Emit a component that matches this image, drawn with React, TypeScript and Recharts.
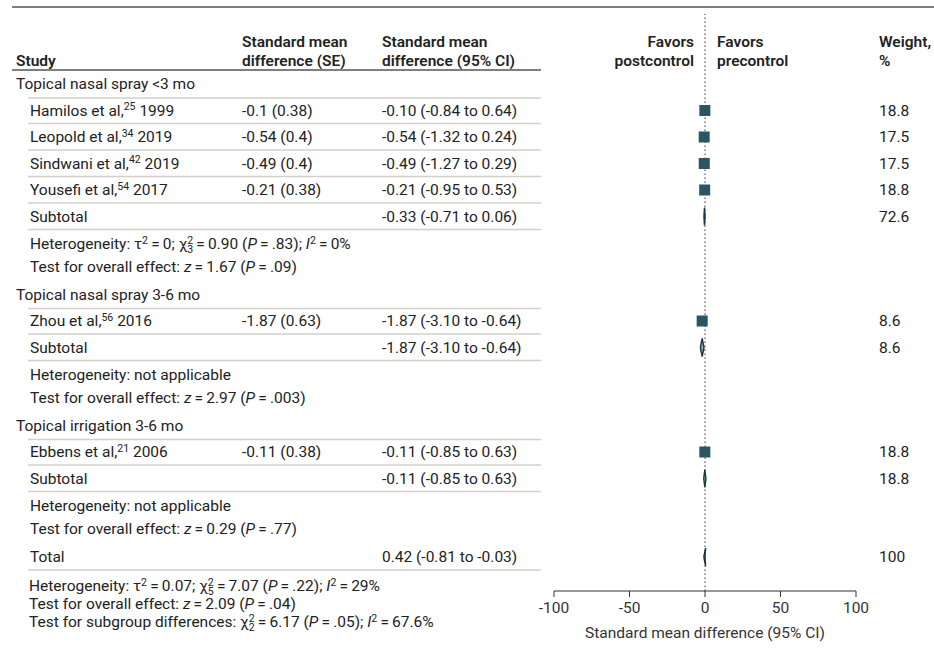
import React from 'react';
import { ComposedChart, Scatter, ErrorBar, XAxis, YAxis, ReferenceLine } from 'recharts';

// subgroups
const groupLabels = ['Topical nasal spray <3 mo', 'Topical nasal spray 3-6 mo', 'Topical irrigation 3-6 mo'];
const groupHeterogeneity = [
  'Heterogeneity: τ^{2} = 0; χ^{2}_{3} = 0.90 (*P* = .83); *I*^{2} = 0%',
  'Heterogeneity: not applicable',
  'Heterogeneity: not applicable',
];
const groupOverall = [
  'Test for overall effect: *z* = 1.67 (*P* = .09)',
  'Test for overall effect: *z* = 2.97 (*P* = .003)',
  'Test for overall effect: *z* = 0.29 (*P* = .77)',
];

// studies
const studyNames = ['Hamilos et al,', 'Leopold et al,', 'Sindwani et al,', 'Yousefi et al,', 'Zhou et al,', 'Ebbens et al,'];
const studyRefs = ['25', '34', '42', '54', '56', '21'];
const studyYears = ['1999', '2019', '2019', '2017', '2016', '2006'];
const studyGroup = [0, 0, 0, 0, 1, 2];
const studySmd = [-0.1, -0.54, -0.49, -0.21, -1.87, -0.11];
const studySe = [0.38, 0.4, 0.4, 0.38, 0.63, 0.38];
const studyLow = [-0.84, -1.32, -1.27, -0.95, -3.1, -0.85];
const studyHigh = [0.64, 0.24, 0.29, 0.53, -0.64, 0.63];
const studyWeight = ['18.8', '17.5', '17.5', '18.8', '8.6', '18.8'];

// subtotals
const subtotalEst = [-0.33, -1.87, -0.11];
const subtotalLow = [-0.71, -3.1, -0.85];
const subtotalHigh = [0.06, -0.64, 0.63];
const subtotalWeight = ['72.6', '8.6', '18.8'];

// overall
const totalEst = 0.42;
const totalLow = -0.81;
const totalHigh = -0.03;
const totalWeight = '100';
const totalNotes = [
  'Heterogeneity: τ^{2} = 0.07; χ^{2}_{5} = 7.07 (*P* = .22); *I*^{2} = 29%',
  'Test for overall effect: *z* = 2.09 (*P* = .04)',
  'Test for subgroup differences: χ^{2}_{2} = 6.17 (*P* = .05); *I*^{2} = 67.6%',
];

const xTicks = [-100, -50, 0, 50, 100];

const INK = '#222';
const BOX = '#2a5664';
const RULE = '#d2d0c9';
const FONT = 15.5;

const fmt = (v: number) => v.toFixed(2);
const ciText = (e: number, lo: number, hi: number) => `${fmt(e)} (${fmt(lo)} to ${fmt(hi)})`;

// ---- row layout ----
type Row = { kind: string; idx: number; text?: string; pos: number };
const rows: Row[] = [];
const gapBefore = (kind: string, prev: string) => {
  if (kind === 'group') return prev === 'header' ? 32.5 : 27.5;
  if (kind === 'note') return prev === 'note' ? 23 : 27.5;
  if (kind === 'total') return 28;
  return 26.5;
};
const push = (kind: string, idx: number, text?: string) => {
  const prev = rows[rows.length - 1];
  const pos = prev ? prev.pos + gapBefore(kind, prev.kind) : 37.5;
  rows.push({ kind, idx, text, pos });
};
push('header', 0);
groupLabels.forEach((_, g) => {
  push('group', g);
  studyGroup.forEach((sg, i) => { if (sg === g) push('study', i); });
  push('subtotal', g);
  push('note', g, groupHeterogeneity[g]);
  push('note', g, groupOverall[g]);
});
push('total', 0);

const rowPos = (kind: string, idx: number) => rows.find(r => r.kind === kind && r.idx === idx)!.pos;

const studyData = studySmd.map((v, i) => ({
  x: v,
  y: rowPos('study', i),
  err: [v - studyLow[i], studyHigh[i] - v],
}));

const diamond = (e: number, lo: number, hi: number, y: number) => [
  { x: lo, y }, { x: e, y: y - 9 }, { x: hi, y }, { x: e, y: y + 9 }, { x: lo, y },
];
const diamonds = [
  ...subtotalEst.map((e, g) => diamond(e, subtotalLow[g], subtotalHigh[g], rowPos('subtotal', g))),
  diamond(totalEst, totalLow, totalHigh, rowPos('total', 0)),
];

// small markup: ^{sup} _{sub} *italic*
function Rich({ x, y, src, anchor = 'start', bold = false }: any) {
  const toks = src.split(/(\^\{[^}]*\}|_\{[^}]*\}|\*[^*]*\*)/).filter(Boolean);
  let shift = 0;
  let supLen = 0;
  let prevSup = false;
  const small = FONT * 0.68;
  const spans = toks.map((t: string, k: number) => {
    if (t.startsWith('^{')) {
      const s = t.slice(2, -1);
      const dy = -5.5 - shift; shift = -5.5; supLen = s.length; prevSup = true;
      return <tspan key={k} dy={dy} fontSize={small}>{s}</tspan>;
    }
    if (t.startsWith('_{')) {
      const s = t.slice(2, -1);
      const dx = prevSup ? -supLen * small * 0.56 : 0;
      const dy = 4 - shift; shift = 4; prevSup = false;
      return <tspan key={k} dx={dx} dy={dy} fontSize={small}>{s}</tspan>;
    }
    prevSup = false;
    const it = t.startsWith('*');
    const s = (it ? t.slice(1, -1) : t).replace(/ = /g, '\u2009=\u2009');
    const dy = -shift; shift = 0;
    return <tspan key={k} dy={dy} fontStyle={it ? 'italic' : undefined}>{s}</tspan>;
  });
  return (
    <text x={x} y={y} fill={INK} fontSize={FONT} textAnchor={anchor} fontWeight={bold ? 600 : undefined}>
      {spans}
    </text>
  );
}

const T = ({ x, y, children, anchor = 'start', bold = false }: any) => (
  <text x={x} y={y} fill={INK} fontSize={FONT} textAnchor={anchor} fontWeight={bold ? 600 : undefined}>{children}</text>
);

const sep = (y: number) => <line x1={28} x2={541} y1={y} y2={y} stroke={RULE} strokeWidth={1.3} />;

function RowTick(props: any) {
  const v = props.payload?.value;
  const row = rows.find(r => Math.abs(r.pos - v) < 0.01);
  if (!row) return null;
  const y = props.y;
  const b = y + 5;
  if (row.kind === 'header') {
    return (
      <g>
        <line x1={12} x2={934} y1={y - 44.5} y2={y - 44.5} stroke="#555" strokeWidth={1.5} />
        <T x={16} y={b + 9.5} bold>Study</T>
        <T x={242} y={b - 9.5} bold>Standard mean</T>
        <T x={242} y={b + 9.5} bold>difference (SE)</T>
        <T x={382} y={b - 9.5} bold>Standard mean</T>
        <T x={382} y={b + 9.5} bold>difference (95% CI)</T>
        <T x={694} y={b - 9.5} anchor="end" bold>Favors</T>
        <T x={694} y={b + 9.5} anchor="end" bold>postcontrol</T>
        <T x={717} y={b - 9.5} bold>Favors</T>
        <T x={717} y={b + 9.5} bold>precontrol</T>
        <T x={879} y={b - 9.5} bold>Weight,</T>
        <T x={879} y={b + 9.5} bold>%</T>
        <line x1={12} x2={541} y1={y + 18.5} y2={y + 18.5} stroke="#555" strokeWidth={1.5} />
      </g>
    );
  }
  if (row.kind === 'group') {
    return <g><T x={16} y={b}>{groupLabels[row.idx]}</T>{sep(y + 14)}</g>;
  }
  if (row.kind === 'study') {
    const i = row.idx;
    return (
      <g>
        <Rich x={30} y={b} src={`${studyNames[i]}^{${studyRefs[i]}} ${studyYears[i]}`} />
        <T x={242} y={b}>{`${studySmd[i]} (${studySe[i]})`}</T>
        <T x={382} y={b}>{ciText(studySmd[i], studyLow[i], studyHigh[i])}</T>
        <T x={879} y={b}>{studyWeight[i]}</T>
        {sep(y + 13)}
      </g>
    );
  }
  if (row.kind === 'subtotal') {
    const g = row.idx;
    return (
      <g>
        <T x={30} y={b}>Subtotal</T>
        <T x={382} y={b}>{ciText(subtotalEst[g], subtotalLow[g], subtotalHigh[g])}</T>
        <T x={879} y={b}>{subtotalWeight[g]}</T>
        {sep(y + 13)}
      </g>
    );
  }
  if (row.kind === 'note') {
    return <Rich x={30} y={b} src={row.text} />;
  }
  return (
    <g>
      <T x={30} y={b}>Total</T>
      <T x={382} y={b}>{ciText(totalEst, totalLow, totalHigh)}</T>
      <T x={879} y={b}>{totalWeight}</T>
      {sep(y + 13)}
      {totalNotes.map((n, k) => <Rich key={k} x={29} y={b + 29 + k * 18} src={n} />)}
    </g>
  );
}

const Box = (p: any) => <rect x={p.cx - 5.5} y={p.cy - 5.5} width={11} height={11} fill={BOX} />;
const Nothing = () => <g />;

export default function App() {
  return (
    <div style={{ position: 'absolute', left: 0, top: 0, fontFamily: 'Roboto, sans-serif' }}>
      <ComposedChart width={934} height={656} margin={{ top: 14, right: 78, bottom: 15, left: 553 }}>
        <XAxis
          type="number"
          dataKey="x"
          domain={[-100, 100]}
          ticks={xTicks}
          tickSize={6}
          tickMargin={5}
          height={50}
          stroke="#333"
          tick={{ fill: '#333', fontSize: FONT }}
          label={{ value: 'Standard mean difference (95% CI)', position: 'insideBottom', offset: 3, fill: '#333', fontSize: FONT }}
        />
        <YAxis
          type="number"
          dataKey="y"
          domain={[0, 577]}
          reversed
          width={1}
          ticks={rows.map(r => r.pos)}
          interval={0}
          axisLine={false}
          tickLine={false}
          tick={(p: any) => <RowTick {...p} />}
        />
        <ReferenceLine x={0} stroke="#333" strokeDasharray="1.5 2.5" />
        <Scatter data={studyData} shape={Box} isAnimationActive={false} />
        <Scatter data={studyData} shape={Nothing} isAnimationActive={false}>
          <ErrorBar dataKey="err" direction="x" width={0} stroke="#fff" strokeWidth={1} isAnimationActive={false} />
        </Scatter>
        {diamonds.map((d, k) => (
          <Scatter
            key={k}
            data={d}
            shape={Nothing}
            line={{ stroke: '#1d3640', strokeWidth: 1.4, fill: '#8fa9b3' }}
            lineType="joint"
            isAnimationActive={false}
          />
        ))}
      </ComposedChart>
    </div>
  );
}
